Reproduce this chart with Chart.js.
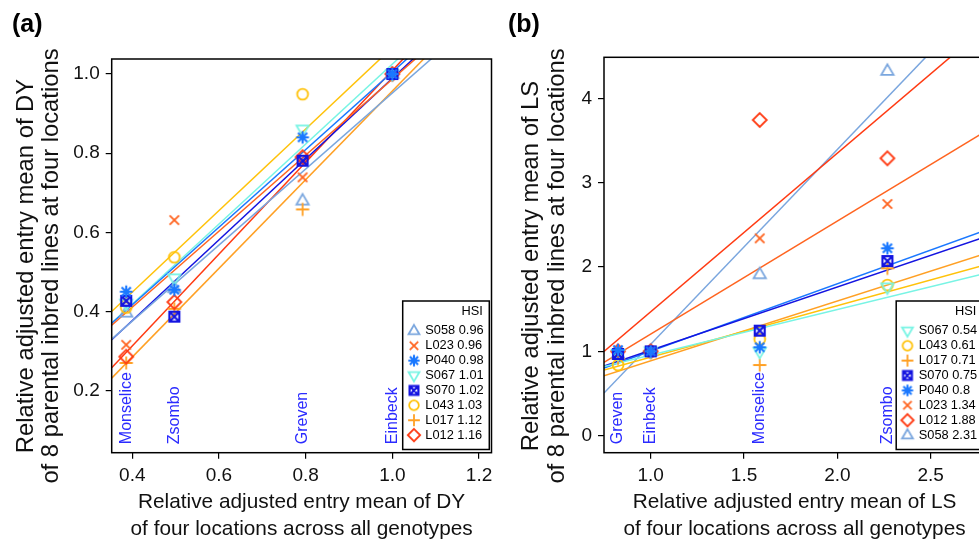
<!DOCTYPE html>
<html>
<head>
<meta charset="utf-8">
<script src="https://cdn.jsdelivr.net/npm/chart.js@4.4.1/dist/chart.umd.min.js"></script>
<style>
  body { margin: 0; width: 979px; height: 539px; overflow: hidden; background: #fff; position: relative; }
  .panel { position: absolute; top: 0; width: 500px; height: 539px; }
  #panelA { left: 0; }
  #panelB { left: 500px; }
</style>
</head>
<body>
<div class="panel" id="panelA"><canvas id="chartA" width="500" height="539"></canvas></div>
<div class="panel" id="panelB"><canvas id="chartB" width="500" height="539"></canvas></div>
<script>
// --- DATA: panel (a), DY ---
const locationsDY = ['Monselice', 'Zsombo', 'Greven', 'Einbeck'];
const envMeanDY   = [0.386, 0.497, 0.793, 1.0];
const dyS058 = [0.397, 0.459, 0.680, 1.0];
const dyL023 = [0.316, 0.631, 0.739, 1.0];
const dyP040 = [0.450, 0.455, 0.840, 1.0];
const dyS067 = [0.420, 0.484, 0.860, 1.0];
const dyS070 = [0.427, 0.387, 0.781, 1.0];
const dyL043 = [0.410, 0.537, 0.949, 1.0];
const dyL017 = [0.270, 0.407, 0.658, 1.0];
const dyL012 = [0.286, 0.424, 0.790, 1.0];
const legendDY = ['S058', 'L023', 'P040', 'S067', 'S070', 'L043', 'L017', 'L012'];
const hsiDY    = [0.96, 0.96, 0.98, 1.01, 1.02, 1.03, 1.12, 1.16];
const fitAt1DY = [0.952, 0.987, 1.005, 1.025, 0.989, 1.067, 0.957, 1.009]; // fitted line value at x = 1
const xTicksDY = [0.4, 0.6, 0.8, 1.0, 1.2];
const yTicksDY = [0.2, 0.4, 0.6, 0.8, 1.0];

// --- DATA: panel (b), LS ---
const locationsLS = ['Greven', 'Einbeck', 'Monselice', 'Zsombo'];
const envMeanLS   = [0.825, 1.0, 1.584, 2.268];
const lsS067 = [0.973, 1.0, 0.996, 1.759];
const lsL043 = [0.838, 1.0, 1.143, 1.786];
const lsL017 = [0.914, 1.0, 0.838, 1.984];
const lsS070 = [0.969, 1.0, 1.245, 2.071];
const lsP040 = [1.016, 1.0, 1.048, 2.222];
const lsL023 = [0.977, 1.0, 2.340, 2.747];
const lsL012 = [1.000, 1.0, 3.743, 3.289];
const lsS058 = [0.967, 1.0, 1.913, 4.324];
const legendLS = ['S067', 'L043', 'L017', 'S070', 'P040', 'L023', 'L012', 'S058'];
const hsiLS    = [0.54, 0.61, 0.71, 0.75, 0.80, 1.34, 1.88, 2.31];
const fitAt1LS = [0.956, 0.932, 0.887, 1.014, 1.001, 1.205, 1.470, 1.083];
const xTicksLS = [1.0, 1.5, 2.0, 2.5];
const yTicksLS = [0, 1, 2, 3, 4];

// --- STYLES ---
const genoColor = {
  S058: '#7aa6de', L023: '#ff6420', P040: '#1a78ff', S067: '#78f4e4',
  S070: '#1414e0', L043: '#ffc20a', L017: '#ffa024', L012: '#ff3a12'
};
const genoShape = {
  S058: 'triUp', L023: 'cross', P040: 'star', S067: 'triDown',
  S070: 'boxX', L043: 'circle', L017: 'plus', L012: 'diamond'
};
// points drawn bottom -> top
const drawOrder = ['S058', 'L043', 'L017', 'L012', 'L023', 'S067', 'S070', 'P040'];
const FONT = "'Liberation Sans', Arial, Helvetica, sans-serif";

function makeMarker(shape, color, k) {
  const c = document.createElement('canvas');
  c.width = 18; c.height = 18;
  const g = c.getContext('2d');
  g.strokeStyle = color;
  g.lineWidth = 1.8;
  g.translate(9, 9);
  g.scale(k, k);
  g.lineWidth = 1.8 / k;
  g.beginPath();
  switch (shape) {
    case 'triUp':   g.moveTo(0, -5.6); g.lineTo(5.2, 3.3); g.lineTo(-5.2, 3.3); g.closePath(); break;
    case 'triDown': g.moveTo(0, 5.6); g.lineTo(5.2, -3.3); g.lineTo(-5.2, -3.3); g.closePath(); break;
    case 'cross':   g.moveTo(-4, -4); g.lineTo(4, 4); g.moveTo(4, -4); g.lineTo(-4, 4); break;
    case 'plus':    g.moveTo(-5.6, 0); g.lineTo(5.6, 0); g.moveTo(0, -5.6); g.lineTo(0, 5.6); break;
    case 'star':
      g.moveTo(-5.4, 0); g.lineTo(5.4, 0); g.moveTo(0, -5.4); g.lineTo(0, 5.4);
      g.moveTo(-3.9, -3.9); g.lineTo(3.9, 3.9); g.moveTo(3.9, -3.9); g.lineTo(-3.9, 3.9);
      g.lineWidth = 2.1 / k;
      break;
    case 'circle':  g.arc(0, 0, 4.6, 0, Math.PI * 2); break;
    case 'diamond': g.moveTo(0, -5.9); g.lineTo(5.9, 0); g.lineTo(0, 5.9); g.lineTo(-5.9, 0); g.closePath(); break;
    case 'boxX':
      g.rect(-4.2, -4.2, 8.4, 8.4);
      g.moveTo(-4.2, -4.2); g.lineTo(4.2, 4.2); g.moveTo(4.2, -4.2); g.lineTo(-4.2, 4.2);
      g.lineWidth = 2.2 / k;
      break;
  }
  g.stroke();
  return c;
}
const markers = {}, legendMarkers = {};
Object.keys(genoColor).forEach(k => {
  markers[k] = makeMarker(genoShape[k], genoColor[k], 1.18);
  legendMarkers[k] = makeMarker(genoShape[k], genoColor[k], 1.05);
});

// --- frame, location labels, legend, titles ---
const decorPlugin = {
  id: 'decor',
  beforeDatasetsDraw(chart, args, o) {
    const { ctx, chartArea: a } = chart;
    const xs = chart.scales.x;
    ctx.save();
    ctx.fillStyle = '#2b2bff';
    ctx.font = '16px ' + FONT;
    ctx.textAlign = 'left';
    ctx.textBaseline = 'middle';
    o.locations.forEach((name, i) => {
      ctx.save();
      ctx.translate(xs.getPixelForValue(o.locX[i]), a.bottom - 8.5);
      ctx.rotate(-Math.PI / 2);
      ctx.fillText(name, 0, 0);
      ctx.restore();
    });
    ctx.restore();
  },
  afterDatasetsDraw(chart, args, o) {
    const { ctx, chartArea: a } = chart;
    ctx.save();
    // legend
    const w = 86.6, h = 148.5;
    const lx = a.right - 2.2 - w, ly = a.bottom - 3.2 - h;
    ctx.fillStyle = '#fff';
    ctx.fillRect(lx, ly, w, h);
    ctx.strokeStyle = '#000';
    ctx.lineWidth = 1.5;
    ctx.strokeRect(lx, ly, w, h);
    ctx.fillStyle = '#000';
    ctx.font = '12.8px ' + FONT;
    ctx.textBaseline = 'middle';
    ctx.textAlign = 'right';
    ctx.fillText('HSI', lx + w - 6.5, ly + 10.5);
    ctx.textAlign = 'left';
    o.legendNames.forEach((g, i) => {
      const yy = ly + 29.8 + i * 14.9;
      ctx.drawImage(legendMarkers[g], lx + 11.3 - 9, yy - 9);
      ctx.fillStyle = '#000';
      ctx.fillText(g + ' ' + o.legendHsi[i], lx + 22.6, yy);
    });
    // box
    ctx.lineWidth = 1.5;
    ctx.strokeRect(a.left, a.top, a.right - a.left, a.bottom - a.top);
    ctx.restore();
  },
  afterDraw(chart, args, o) {
    const { ctx, chartArea: a } = chart;
    ctx.save();
    ctx.fillStyle = '#111';
    ctx.font = '20.8px ' + FONT;
    ctx.textAlign = 'center';
    ctx.textBaseline = 'middle';
    const cx = (a.left + a.right) / 2;
    ctx.fillText(o.xTitle[0], cx, a.bottom + 50);
    ctx.fillText(o.xTitle[1], cx, a.bottom + 76.5);
    ctx.font = '23.8px ' + FONT;
    o.yTitle.forEach((t, i) => {
      ctx.save();
      ctx.translate(o.yTitleX[i], 266);
      ctx.rotate(-Math.PI / 2);
      ctx.fillText(t, 0, 0);
      ctx.restore();
    });
    ctx.font = 'bold 25px ' + FONT;
    ctx.textAlign = 'left';
    ctx.fillStyle = '#000';
    ctx.fillText(o.panel, o.panelX, 25);
    ctx.restore();
  }
};

function buildDatasets(seriesByGeno, locX, legendNames, hsi, at1, xmin, xmax) {
  const ds = [];
  legendNames.forEach((g, i) => {
    const b = hsi[i], c = at1[i];
    ds.push({
      type: 'line',
      data: [{ x: xmin, y: c + b * (xmin - 1) }, { x: xmax, y: c + b * (xmax - 1) }],
      borderColor: genoColor[g],
      borderWidth: 1.5,
      pointRadius: 0,
      order: 1000
    });
  });
  drawOrder.forEach((g, i) => {
    ds.push({
      type: 'scatter',
      data: locX.map((x, j) => ({ x: x, y: seriesByGeno[g][j] })),
      pointStyle: markers[g],
      pointRadius: 7,
      order: 100 - i
    });
  });
  return ds;
}

function makeChart(id, cfg) {
  const tickFont = { family: FONT, size: 19 };
  return new Chart(document.getElementById(id), {
    data: { datasets: buildDatasets(cfg.series, cfg.locX, cfg.legendNames, cfg.hsi, cfg.at1, cfg.xmin, cfg.xmax) },
    options: {
      responsive: false,
      animation: false,
      events: [],
      layout: { padding: { top: cfg.top, right: cfg.right, left: 0, bottom: 0 } },
      plugins: {
        legend: { display: false },
        tooltip: { enabled: false },
        decor: {
          locations: cfg.locations, locX: cfg.locX,
          legendNames: cfg.legendNames, legendHsi: cfg.hsi,
          xTitle: cfg.xTitle, yTitle: cfg.yTitle, yTitleX: cfg.yTitleX,
          panel: cfg.panel, panelX: cfg.panelX
        }
      },
      scales: {
        x: {
          type: 'linear', min: cfg.xmin, max: cfg.xmax,
          afterBuildTicks: s => { s.ticks = cfg.xTicks.map(v => ({ value: v })); },
          afterFit: s => { s.height = 539 - cfg.bottom; },
          ticks: { callback: v => v.toFixed(1), font: tickFont, color: '#111', padding: 6, maxRotation: 0, autoSkip: false },
          grid: { display: true, drawOnChartArea: false, drawTicks: true, tickLength: 6, color: '#000', lineWidth: 1.2 },
          border: { display: false }
        },
        y: {
          type: 'linear', min: cfg.ymin, max: cfg.ymax,
          afterBuildTicks: s => { s.ticks = cfg.yTicks.map(v => ({ value: v })); },
          afterFit: s => { s.width = cfg.left; },
          ticks: { callback: cfg.yFmt, font: tickFont, color: '#111', padding: 6, autoSkip: false },
          grid: { display: true, drawOnChartArea: false, drawTicks: true, tickLength: 6, color: '#000', lineWidth: 1.2 },
          border: { display: false }
        }
      }
    },
    plugins: [decorPlugin]
  });
}

makeChart('chartA', {
  series: { S058: dyS058, L023: dyL023, P040: dyP040, S067: dyS067, S070: dyS070, L043: dyL043, L017: dyL017, L012: dyL012 },
  locations: locationsDY, locX: envMeanDY,
  legendNames: legendDY, hsi: hsiDY, at1: fitAt1DY,
  xmin: 0.3525, xmax: 1.2288, ymin: 0.0434, ymax: 1.0379,
  xTicks: xTicksDY, yTicks: yTicksDY, yFmt: v => v.toFixed(1),
  top: 59, right: 8.5, left: 111.7, bottom: 452.7,
  xTitle: ['Relative adjusted entry mean of DY', 'of four locations across all genotypes'],
  yTitle: ['Relative adjusted entry mean of DY', 'of 8 parental inbred lines at four locations'],
  yTitleX: [26, 51.5],
  panel: '(a)', panelX: 12
});

makeChart('chartB', {
  series: { S058: lsS058, L023: lsL023, P040: lsP040, S067: lsS067, S070: lsS070, L043: lsL043, L017: lsL017, L012: lsL012 },
  locations: locationsLS, locX: envMeanLS,
  legendNames: legendLS, hsi: hsiLS, at1: fitAt1LS,
  xmin: 0.7498, xmax: 2.791, ymin: -0.2015, ymax: 4.486,
  xTicks: xTicksLS, yTicks: yTicksLS, yFmt: v => String(v),
  top: 57.3, right: 15, left: 104, bottom: 452.7,
  xTitle: ['Relative adjusted entry mean of LS', 'of four locations across all genotypes'],
  yTitle: ['Relative adjusted entry mean of LS', 'of 8 parental inbred lines at four locations'],
  yTitleX: [31, 57],
  panel: '(b)', panelX: 8
});
</script>
</body>
</html>
